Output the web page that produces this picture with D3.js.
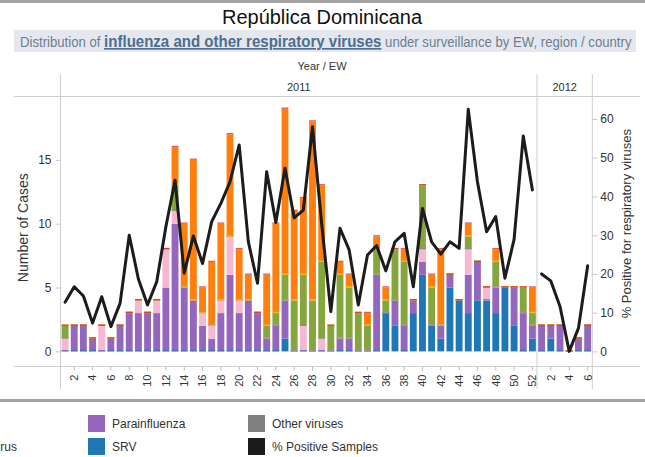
<!DOCTYPE html>
<html><head><meta charset="utf-8">
<script src="https://cdn.jsdelivr.net/npm/d3@7"></script>
<style>
body{margin:0;background:#fff;}
svg{display:block;font-family:"Liberation Sans",Arial,sans-serif;}
</style>
</head><body>
<svg id="c" width="645" height="457"></svg>
<script>
// ---------------- DATA ----------------
const weeks2011 = [1,2,3,4,5,6,7,8,9,10,11,12,13,14,15,16,17,18,19,20,21,22,23,24,25,26,
                   27,28,29,30,31,32,33,34,35,36,37,38,39,40,41,42,43,44,45,46,47,48,49,50,51,52];
const weeks2012 = [1,2,3,4,5,6];
const tickWeeks2011 = [2,4,6,8,10,12,14,16,18,20,22,24,26,28,30,32,34,36,38,40,42,44,46,48,50,52];
const tickWeeks2012 = [2,4,6];
const yTicksCases = [0,5,10,15];
const yTicksPct = [0,10,20,30,40,50,60];

// values: 52 weeks of 2011 followed by 6 weeks of 2012
const srv =          [0,0,0,0,0,0,0,0,0,0,0,0, 0,0,0,0,0,0,0,0,0,0,0,0, 1,0,0,0,0,0,0,0,0,0,0,3, 2,0,3,6,2,1,5,4,3,4,4,3, 5,2,0,1,  0,1,0,0,0,0];
const parainfluenza =[0,2,2,1,0,1,2,3,3,3,3,5, 10,5,4,2,1,3,6,3,4,3,1,2, 3,0,0,0,0,0,1,1,0,0,6,0, 2,2,1,1,0,1,1,0,3,3,0,2, 0,3,3,1,  2,1,2,0,1,2];
const influenzaB =   [1,0,0,0,2,0,0,0,1,0,1,3, 1,0,0,1,1,1,3,1,0,0,0,0, 0,0,2,0,1,0,0,0,0,0,0,0, 0,0,0,1,0,0,0,0,2,0,1,0, 0,0,0,0,  0,0,0,0,0,0];
const otherViruses = [0,0,0,0,0,0,0,0,0,0,0,0, 0,0,0,0,0,0,0,0,0,0,0,0, 0,0,0,0,0,0,0,0,0,0,0,0, 0,0,0,0,0,0,0,0,0,0,0,0, 0,0,0,0,  0,0,0,0,0,0];
const adenovirus =   [1,0,0,0,0,0,0,0,0,0,0,0, 2,0,0,0,0,0,0,0,0,0,1,1, 2,4,4,4,6,2,5,4,3,2,2,1, 4,5,0,5,3,0,0,0,1,0,0,2, 0,0,2,1,  0,0,0,0,0,0];
const fluAH3N2 =     [0,0,0,0,0,0,0,0,0,0,0,0, 0,0,0,0,0,0,0,0,0,0,0,0, 0,0,0,0,0,0,0,0,0,0,0,0, 0,0,0,0,0,0,0,0,0,0,0,0, 0,0,0,0,  0,0,0,0,0,0];
const fluANotSub =   [0,0,0,0,0,0,0,0,0,0,0,0, 3,5,11,2,5,6,8,4,2,0,4,7, 13,7,6,14,6,0,1,1,0,1,1,1, 0,1,0,0,1,6,0,0,1,0,0,1, 0,0,0,2,  0,0,0,0,0,0];
const fluAH1N1 =     [0,0,0,0,0,0,0,0,0,0,0,0, 0,0,0,0,0,0,0,0,0,0,0,0, 0,0,0,0,0,0,0,0,0,0,0,0, 0,0,0,0,0,0,0,0,0,0,0,0, 0,0,0,0,  0,0,0,0,0,0];
const pctPositive =  [12.7,16.7,14.3,7.3,14.1,6.4,12.4,30.0,18.7,12.0,18.0,32.2,
                      44.2,20.2,29.8,22.7,33.5,38.2,43.8,53.3,28.3,17.6,46.4,33.3,
                      47.3,34.5,36.5,58.0,33.0,10.3,31.8,26.2,12.0,24.9,27.3,20.8,
                      28.3,30.5,16.7,36.9,28.3,25.1,28.3,26.6,62.5,43.8,30.9,34.8,
                      18.9,28.9,55.6,41.7,
                      20.0,18.2,11.6,0,6.0,22.1];

const seriesNames  = ["SRV","Parainfluenza","Influenza B","Other viruses","Adenovirus","Influenza A(H3N2)","Influenza A not subtyped","Influenza A(H1N1)pdm09"];
const seriesValues = [srv, parainfluenza, influenzaB, otherViruses, adenovirus, fluAH3N2, fluANotSub, fluAH1N1];
const seriesColors = ["#1f77b4","#9467bd","#f7b6d2","#8a8a8a","#84a63d","#e8cf1c","#ff7f0e","#d62728"];

// ---------------- LAYOUT ----------------
const svg = d3.select("#c");
const W = 645;
const plotTop = 96, plotBottom = 351.4;
const x0 = 60.5, xSplit = 537, x1 = 592.3;

svg.append("rect").attr("x",0).attr("y",0).attr("width",W).attr("height",3).attr("fill","#a3a3a3");
svg.append("text").attr("x",322).attr("y",24).attr("text-anchor","middle")
  .attr("font-size",20).attr("fill","#111").text("República Dominicana");

svg.append("rect").attr("x",14).attr("y",30).attr("width",622).attr("height",22).attr("fill","#e4e8ee");
const sub = svg.append("text").attr("y",47).attr("font-size",14).attr("fill","#6e7d8e");
sub.append("tspan").text("Distribution of ");
sub.append("tspan").attr("font-weight","bold").attr("font-size",16).attr("fill","#4e6d8f")
   .attr("text-decoration","underline").text("influenza and other respiratory viruses");
sub.append("tspan").text(" under surveillance by EW, region / country");
{
  const tw = sub.node().getComputedTextLength();
  const target = 612, left = 20;
  sub.attr("x",0).attr("transform",`translate(${left},0) scale(${target/tw},1)`);
}

svg.append("text").attr("x",322).attr("y",70).attr("text-anchor","middle")
  .attr("font-size",11).attr("fill","#333").text("Year  /  EW");

const gridCol = "#cfcfcf";
svg.append("line").attr("x1",14).attr("x2",640).attr("y1",plotTop+0.5).attr("y2",plotTop+0.5).attr("stroke",gridCol);
svg.append("line").attr("x1",14).attr("x2",640).attr("y1",366.5).attr("y2",366.5).attr("stroke",gridCol);
[x0, xSplit, x1].forEach(xv=>{
  svg.append("line").attr("x1",xv).attr("x2",xv).attr("y1",74).attr("y2",389).attr("stroke",gridCol);
});
svg.append("rect").attr("x",0).attr("y",399).attr("width",W).attr("height",3).attr("fill","#a3a3a3");

svg.append("text").attr("x",(x0+xSplit)/2).attr("y",91).attr("text-anchor","middle")
  .attr("font-size",11).attr("fill","#333").text("2011");
svg.append("text").attr("x",(xSplit+x1)/2).attr("y",91).attr("text-anchor","middle")
  .attr("font-size",11).attr("fill","#333").text("2012");

// scales
const xs2011 = d3.scaleBand().domain(weeks2011).range([x0, xSplit]).paddingInner(0.25).paddingOuter(0.125);
const xs2012 = d3.scaleBand().domain(weeks2012).range([xSplit, x1]).paddingInner(0.25).paddingOuter(0.125);
const yCases = d3.scaleLinear().domain([0,20]).range([plotBottom, plotTop]);
const yPct = d3.scaleLinear().domain([0,65.94]).range([plotBottom, plotTop]);

const rows = weeks2011.map((w,i)=>({year:2011, week:w, idx:i}))
  .concat(weeks2012.map((w,i)=>({year:2012, week:w, idx:52+i})));
const xOf = d => (d.year===2011 ? xs2011 : xs2012)(d.week);
const bw = xs2011.bandwidth();

const stack = d3.stack().keys(d3.range(seriesNames.length))
  .value((d,k)=>seriesValues[k][d.idx]);
const layers = stack(rows);

const gBars = svg.append("g");
layers.forEach((layer,k)=>{
  gBars.selectAll(null).data(layer.filter(s=>s[1]-s[0]>0)).join("rect")
    .attr("x",s=>xOf(s.data)).attr("width",bw)
    .attr("y",s=>yCases(s[1])).attr("height",s=>yCases(s[0])-yCases(s[1]))
    .attr("fill",seriesColors[k]);
});
// zero-valued segments show as thin strips (as in the original rendering)
layers.forEach((layer,k)=>{
  gBars.selectAll(null).data(layer.filter(s=>s[1]-s[0]===0)).join("rect")
    .attr("x",s=>xOf(s.data)).attr("width",bw)
    .attr("y",s=>yCases(s[1])-1.3).attr("height",1.3)
    .attr("fill",seriesColors[k]).attr("opacity",0.75);
});

// % positive line, one per year pane
const line = d3.line().x(d=>xOf(d)+bw/2).y(d=>yPct(pctPositive[d.idx]));
[2011,2012].forEach(yr=>{
  svg.append("path").datum(rows.filter(r=>r.year===yr)).attr("d",line)
    .attr("fill","none").attr("stroke","#1c1c1c").attr("stroke-width",3)
    .attr("stroke-linejoin","round").attr("stroke-linecap","round");
});

// left axis
const gL = svg.append("g").attr("transform",`translate(${x0},0)`)
  .call(d3.axisLeft(yCases).tickValues(yTicksCases).tickSize(5).tickPadding(4));
gL.select(".domain").remove();
gL.selectAll(".tick line").attr("stroke","#c8c8c8");
gL.selectAll(".tick text").attr("font-size",12).attr("fill","#333").attr("font-family",null);
svg.append("text").attr("transform",`translate(28,${(plotTop+plotBottom)/2+4}) rotate(-90)`)
  .attr("text-anchor","middle").attr("font-size",14).attr("fill","#333").text("Number of Cases");

// right axis
const gR = svg.append("g").attr("transform",`translate(${x1},0)`)
  .call(d3.axisRight(yPct).tickValues(yTicksPct).tickSize(5).tickPadding(3));
gR.select(".domain").remove();
gR.selectAll(".tick line").attr("stroke","#c8c8c8");
gR.selectAll(".tick text").attr("font-size",12).attr("fill","#333").attr("font-family",null);
svg.append("text").attr("transform",`translate(631,${(plotTop+plotBottom)/2}) rotate(-90)`)
  .attr("text-anchor","middle").attr("font-size",13).attr("fill","#333").text("% Positive for respiratory viruses");

// bottom axes (week ticks)
function weekAxis(scale, ticks){
  const g = svg.append("g").attr("transform","translate(0,366.5)")
    .call(d3.axisBottom(scale).tickValues(ticks).tickSize(4).tickPadding(3));
  g.select(".domain").remove();
  g.selectAll(".tick line").attr("stroke","#bdbdbd");
  g.selectAll(".tick text").attr("font-size",11).attr("fill","#333").attr("font-family",null)
    .attr("transform","rotate(-90)").attr("text-anchor","end")
    .attr("x",-8).attr("y",0).attr("dy","0.35em");
}
weekAxis(xs2011, tickWeeks2011);
weekAxis(xs2012, tickWeeks2012);

// legend (the reference is cropped at the left: only "...rus" of one item shows)
const legendItems = [
  {name:"Adenovirus", color:seriesColors[4], col:0, row:1},
  {name:"Parainfluenza", color:seriesColors[1], col:1, row:0},
  {name:"SRV", color:seriesColors[0], col:1, row:1},
  {name:"Other viruses", color:"#808080", col:2, row:0},
  {name:"% Positive Samples", color:"#1c1c1c", col:2, row:1}
];
const gLeg = svg.append("g");
legendItems.forEach(it=>{
  const sx = 88 + (it.col-1)*160;
  const sy = 415 + it.row*23;
  if (it.col === 0) {
    gLeg.append("text").attr("x",17).attr("y",sy+13).attr("text-anchor","end")
      .attr("font-size",12).attr("fill","#333").text(it.name);
    return;
  }
  gLeg.append("rect").attr("x",sx).attr("y",sy).attr("width",17).attr("height",17).attr("fill",it.color);
  gLeg.append("text").attr("x",sx+24).attr("y",sy+13).attr("font-size",12).attr("fill","#333").text(it.name);
});
</script>
</body></html>
